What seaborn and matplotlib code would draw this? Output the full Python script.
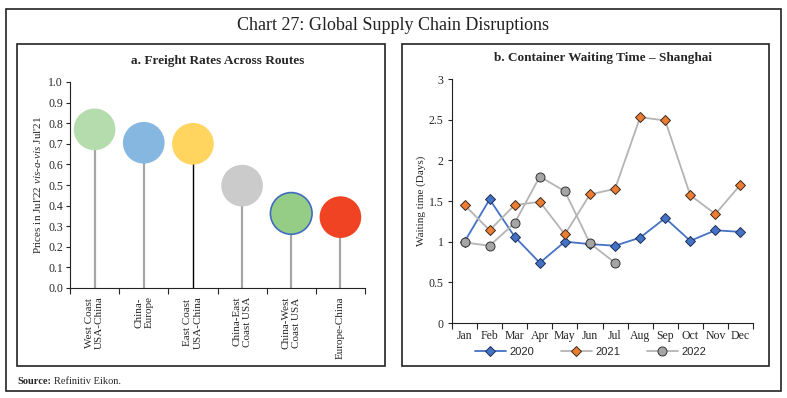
import numpy as np
import pandas as pd
import seaborn as sns
import matplotlib.pyplot as plt
from matplotlib.patches import Rectangle
from matplotlib.ticker import FixedLocator, FormatStrFormatter

# panel a data
routes = ['West Coast\nUSA-China', 'China-\nEurope', 'East Coast\nUSA-China',
          'China-East\nCoast USA', 'China-West\nCoast USA', 'Europe-China']
price_ratio = [0.77, 0.705, 0.70, 0.497, 0.362, 0.344]
bubble_colors = ['#b5dcad', '#85b7e0', '#ffd45f', '#cbcbcb', '#95cd87', '#ef4323']
bubble_edges = ['none', 'none', 'none', 'none', '#3f6cc0', 'none']
stem_colors = ['#a6a6a6', '#a6a6a6', '#000000', '#a6a6a6', '#a6a6a6', '#a6a6a6']
stem_widths = [1.6, 1.6, 1.0, 1.6, 1.6, 1.6]

# panel b data
months = ['Jan', 'Feb', 'Mar', 'Apr', 'May', 'Jun', 'Jul', 'Aug', 'Sep', 'Oct', 'Nov', 'Dec']
wait_2020 = [1.00, 1.52, 1.06, 0.74, 1.00, 0.97, 0.95, 1.05, 1.29, 1.01, 1.14, 1.12]
wait_2021 = [1.45, 1.14, 1.45, 1.49, 1.09, 1.58, 1.65, 2.53, 2.49, 1.57, 1.34, 1.70]
wait_2022 = [0.99, 0.95, 1.23, 1.80, 1.62, 0.98, 0.74]

sns.set_theme(style='white')
plt.rcParams['font.family'] = ['Liberation Serif', 'DejaVu Serif']
plt.rcParams['mathtext.fontset'] = 'custom'
plt.rcParams['mathtext.it'] = 'Liberation Serif:italic'
plt.rcParams['mathtext.rm'] = 'Liberation Serif'

fig = plt.figure(figsize=(7.87, 3.98), dpi=100)
W, H = 787, 398


def px_rect(x0, y0, x1, y1, lw=1.2):
    fig.patches.append(Rectangle((x0 / W, 1 - y1 / H), (x1 - x0) / W, (y1 - y0) / H,
                                 transform=fig.transFigure, fill=False,
                                 edgecolor='#222222', linewidth=lw))


px_rect(6, 9, 781, 391)
px_rect(17, 44, 385, 366)
px_rect(402, 44, 769, 366)

fig.text(393 / W, 1 - 25 / H, 'Chart 27: Global Supply Chain Disruptions',
         ha='center', va='center', fontsize=13, color='#222222')
fig.text(17 / W, 1 - 381 / H, 'Source:', fontsize=7.5, fontweight='bold', va='center')
fig.text(54 / W, 1 - 381 / H, 'Refinitiv Eikon.', fontsize=7.5, va='center')

# ---- panel a: lollipop
ax1 = fig.add_axes([70 / W, 1 - 288 / H, 295 / W, 206 / H])
xpos = np.arange(len(routes))
ax1.vlines(xpos, 0, price_ratio, colors=stem_colors, linewidth=stem_widths, zorder=1)
df_a = pd.DataFrame({'route': routes, 'ratio': price_ratio, 'x': xpos})
sns.scatterplot(data=df_a, x='x', y='ratio', hue='route', palette=bubble_colors,
                s=900, legend=False, ax=ax1, zorder=3, linewidth=0)
coll = ax1.collections[-1]
coll.set_edgecolors(bubble_edges)
coll.set_linewidths([1.2 if e != 'none' else 0 for e in bubble_edges])

ax1.set_xlim(-0.5, len(routes) - 0.5)
ax1.set_ylim(0, 1.0)
ax1.set_yticks(np.arange(0, 1.01, 0.1))
ax1.yaxis.set_major_formatter(FormatStrFormatter('%.1f'))
ax1.set_xticks(xpos)
ax1.set_xticklabels(routes, rotation=90, fontsize=8, linespacing=1.15)
ax1.xaxis.set_minor_locator(FixedLocator(np.arange(-0.5, len(routes), 1)))
ax1.tick_params(axis='x', which='major', length=0, pad=6)
ax1.tick_params(axis='x', which='minor', length=4, width=0.8, direction='out', bottom=True)
ax1.tick_params(axis='y', length=3, width=0.8, direction='out', left=True, labelsize=8.5, pad=2)
ax1.set_ylabel("Prices in Jul'22 $\\mathit{vis}$-$\\mathit{a}$-$\\mathit{vis}$ Jul'21",
               fontsize=8, labelpad=4)
ax1.set_xlabel('')
for s in ['top', 'right']:
    ax1.spines[s].set_visible(False)
for s in ['left', 'bottom']:
    ax1.spines[s].set_color('#222222')
    ax1.spines[s].set_linewidth(0.8)
ax1.set_title('a. Freight Rates Across Routes', fontsize=9.5, fontweight='bold', pad=13)

# ---- panel b: lines
ax2 = fig.add_axes([452 / W, 1 - 323 / H, 301 / W, 244 / H])
mx = np.arange(len(months))
sns.lineplot(x=mx, y=wait_2020, ax=ax2, color='#4472c4', linewidth=1.3, marker='D',
             markersize=5, markerfacecolor='#4472c4', markeredgecolor='#1c2f55',
             markeredgewidth=0.7, label='2020')
sns.lineplot(x=mx, y=wait_2021, ax=ax2, color='#b4b4b4', linewidth=1.3, marker='D',
             markersize=5, markerfacecolor='#ed7d31', markeredgecolor='#3a2a20',
             markeredgewidth=0.7, label='2021')
sns.lineplot(x=mx[:len(wait_2022)], y=wait_2022, ax=ax2, color='#b4b4b4', linewidth=1.3,
             marker='o', markersize=6.5, markerfacecolor='#a5a5a5', markeredgecolor='#333333',
             markeredgewidth=0.7, label='2022')

ax2.set_xlim(-0.5, len(months) - 0.5)
ax2.set_ylim(0, 3)
ax2.set_yticks([0, 0.5, 1, 1.5, 2, 2.5, 3])
ax2.set_yticklabels(['0', '0.5', '1', '1.5', '2', '2.5', '3'])
ax2.set_xticks(mx)
ax2.set_xticklabels(months, fontsize=8.5)
ax2.xaxis.set_minor_locator(FixedLocator(np.arange(-0.5, len(months), 1)))
ax2.tick_params(axis='x', which='major', length=0, pad=5)
ax2.tick_params(axis='x', which='minor', length=4, width=0.8, direction='out', bottom=True)
ax2.tick_params(axis='y', length=3, width=0.8, direction='out', left=True, labelsize=8.5, pad=3)
ax2.set_ylabel('Waiting time (Days)', fontsize=8, labelpad=2)
for s in ['top', 'right']:
    ax2.spines[s].set_visible(False)
for s in ['left', 'bottom']:
    ax2.spines[s].set_color('#222222')
    ax2.spines[s].set_linewidth(0.8)
ax2.set_title('b. Container Waiting Time \u2013 Shanghai', fontsize=9.5, fontweight='bold', pad=13)
leg = ax2.legend(loc='center', bbox_to_anchor=(0.46, -0.12), ncol=3, frameon=False,
                 handlelength=2.8, columnspacing=2.4, handletextpad=0.3,
                 prop={'family': 'Liberation Sans', 'size': 8})

fig.savefig('out.png', dpi=100)
